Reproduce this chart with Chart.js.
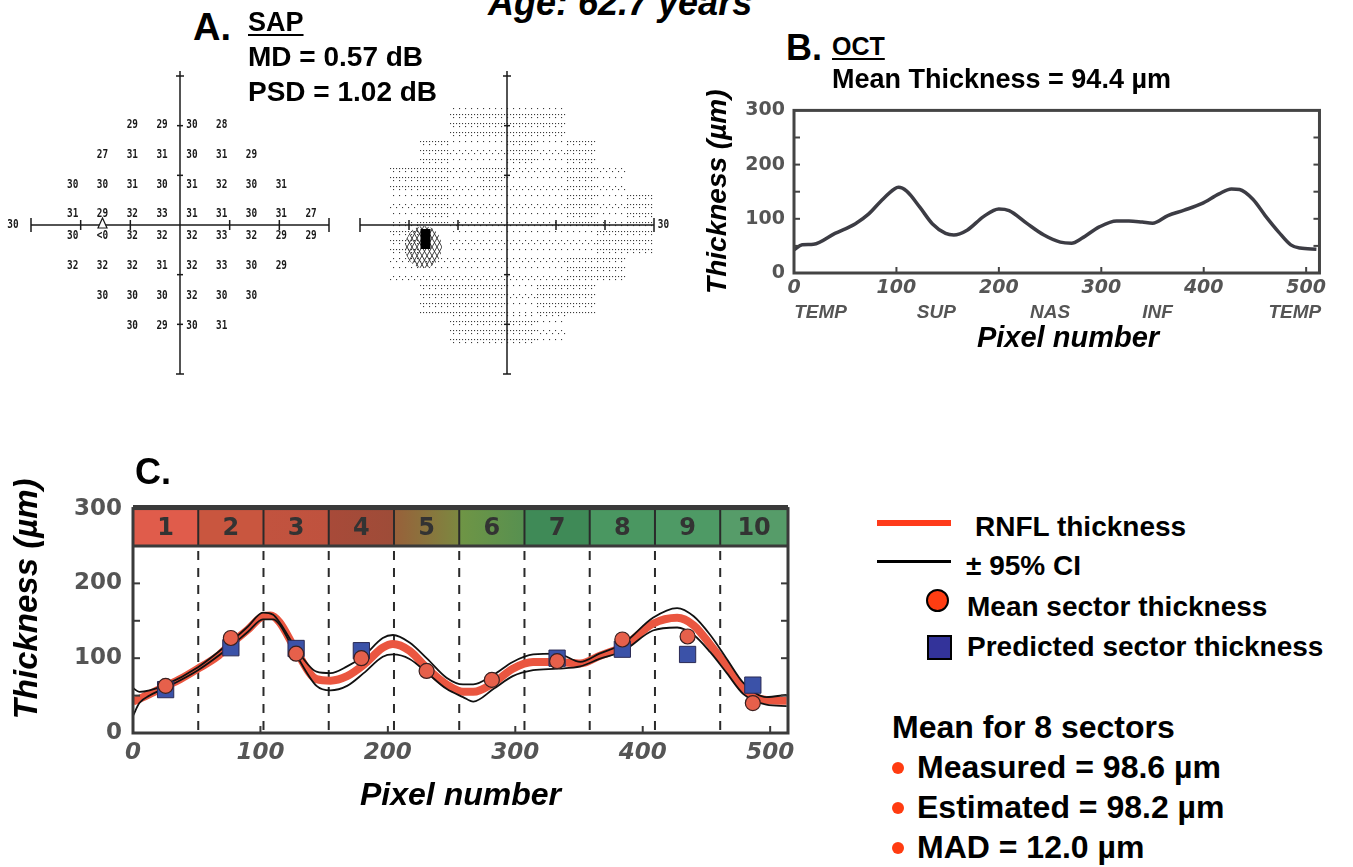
<!DOCTYPE html>
<html>
<head>
<meta charset="utf-8">
<script src="https://cdn.jsdelivr.net/npm/chart.js@4.4.1/dist/chart.umd.min.js"></script>
<style>
  html, body { margin:0; padding:0; background:#fff; }
  body { width:1353px; height:867px; position:relative; overflow:hidden; font-family:'Liberation Sans', Arial, sans-serif; }
  canvas { position:absolute; }
  .t { position:absolute; white-space:nowrap; font-weight:bold; color:#000; line-height:1; }
  .i { font-style:italic; }
  .u { text-decoration:underline; text-decoration-thickness:2px; text-underline-offset:3px; }
  .sw { position:absolute; box-sizing:border-box; }
</style>
</head>
<body>
<canvas id="sapNum" width="345" height="330" style="left:0px;top:60px"></canvas>
<canvas id="sapGrey" width="335" height="330" style="left:345px;top:60px"></canvas>
<canvas id="oct" width="663" height="266" style="left:690px;top:90px"></canvas>
<canvas id="rnfl" width="820" height="375" style="left:0px;top:440px"></canvas>

<div class="t i" style="left:488px;top:-15.5px;font-size:36px">Age: 62.7 years</div>
<div class="t" style="left:193px;top:7.8px;font-size:38px">A.</div>
<div class="t u" style="left:248px;top:9.1px;font-size:27px">SAP</div>
<div class="t" style="left:248px;top:43.3px;font-size:28px">MD = 0.57 dB</div>
<div class="t" style="left:248px;top:77.8px;font-size:28px">PSD = 1.02 dB</div>
<div class="t" style="left:786px;top:29.5px;font-size:36px">B.</div>
<div class="t u" style="left:832px;top:33.8px;font-size:25px">OCT</div>
<div class="t" style="left:832px;top:66.1px;font-size:27px">Mean Thickness = 94.4 µm</div>
<div class="t" style="left:135px;top:453.5px;font-size:36px">C.</div>

<div class="sw" style="left:877px;top:520px;width:74px;height:6px;background:#ff3b1a"></div>
<div class="sw" style="left:877px;top:559.5px;width:74px;height:3px;background:#000"></div>
<div class="sw" style="left:925.5px;top:588.5px;width:23px;height:23px;border-radius:50%;background:#ff3d12;border:2px solid #000"></div>
<div class="sw" style="left:927px;top:635px;width:25px;height:25px;background:#33339a;border:2px solid #000"></div>
<div class="t" style="left:975px;top:513.3px;font-size:28px">RNFL thickness</div>
<div class="t" style="left:966px;top:552.3px;font-size:28px">± 95% CI</div>
<div class="t" style="left:967px;top:593.3px;font-size:28px">Mean sector thickness</div>
<div class="t" style="left:967px;top:633.3px;font-size:28px">Predicted sector thickness</div>
<div class="t" style="left:892px;top:710.9px;font-size:32px">Mean for 8 sectors</div>
<div class="sw" style="left:892px;top:762px;width:12px;height:12px;border-radius:50%;background:#ff3b10"></div>
<div class="sw" style="left:892px;top:802px;width:12px;height:12px;border-radius:50%;background:#ff3b10"></div>
<div class="sw" style="left:892px;top:842px;width:12px;height:12px;border-radius:50%;background:#ff3b10"></div>
<div class="t" style="left:917px;top:750.9px;font-size:32px">Measured = 98.6 µm</div>
<div class="t" style="left:917px;top:790.9px;font-size:32px">Estimated = 98.2 µm</div>
<div class="t" style="left:917px;top:830.9px;font-size:32px">MAD = 12.0 µm</div>

<script>
// ---------------- DATA ----------------
// Panel A: SAP 24-2 threshold values (dB) at test locations (degrees); -1 means "<0"
const sapX = [-9,-3,3,9,
  -15,-9,-3,3,9,15,
  -21,-15,-9,-3,3,9,15,21,
  -21,-15,-9,-3,3,9,15,21,27,
  -21,-15,-9,-3,3,9,15,21,27,
  -21,-15,-9,-3,3,9,15,21,
  -15,-9,-3,3,9,15,
  -9,-3,3,9];
const sapY = [21,21,21,21,
  15,15,15,15,15,15,
  9,9,9,9,9,9,9,9,
  3,3,3,3,3,3,3,3,3,
  -3,-3,-3,-3,-3,-3,-3,-3,-3,
  -9,-9,-9,-9,-9,-9,-9,-9,
  -15,-15,-15,-15,-15,-15,
  -21,-21,-21,-21];
const sapThreshold = [29,29,30,28,
  27,31,31,30,31,29,
  30,30,31,30,31,32,30,31,
  31,29,32,33,31,31,30,31,27,
  30,-1,32,32,32,33,32,29,29,
  32,32,32,31,32,33,30,29,
  30,30,30,32,30,30,
  30,29,30,31];
const fieldAxisTicks = [-20,-10,10,20];
const fieldAxisEnds = [-30,30];
const blindSpotX = -15;

// Panel B: OCT thickness profile
const octX = [0,8,19,40,60,73,85,98,102,110,123,135,148,156,169,185,200,210,227,244,260,271,281,298,315,327,340,350,365,381,398,415,427,435,448,460,473,485,494,510];
const octY = [43,52,53,73,91,109,133,155,158,151,121,91,73,70,79,104,118,115,92,70,57,55,64,85,96,96,94,92,106,116,128,146,155,154,136,106,76,52,46,44];
const octTickX = [0,100,200,300,400,500];
const octTickY = [0,100,200,300];
const octMinorY = [50,100,150,200,250];
const octRegions = ['TEMP','SUP','NAS','INF','TEMP'];
const octRegionPos = [26,139,250,355,489];
const octFrameMax = 513;

// Panel C: RNFL thickness with 95% CI, sector means and predictions
const rnflX = [0,13,25,37,51,66,76,90,102,108,115,128,144,155,168,181,196,204,217,231,246,259,267,283,298,314,333,351,366,385,408,427,440,453,466,479,497,513];
const rnflY = [42,52,62,72,86,102,118,138,156,157,148,110,72,70,76,91,114,119,110,86,65,55,55,67,86,95,95,93,103,116,146,154,144,118,89,59,44,43];
const ciX = [0,5,13,25,51,76,90,102,110,115,128,144,155,168,181,196,204,217,231,246,259,267,283,298,314,333,351,366,385,408,427,440,453,466,479,497,513];
const ciUpper = [60,55,57,64,88,121,142,161,158,148,113,82,80,89,103,127,131,121,99,74,65,65,78,95,105,106,95,106,120,154,167,156,131,99,67,48,51];
const ciLower = [23,40,50,60,84,115,135,152,152,145,105,63,57,63,80,102,105,99,80,59,48,42,59,76,84,86,89,99,110,137,141,131,108,80,52,38,36];
const sectorNames = ['1','2','3','4','5','6','7','8','9','10'];
const sectorBounds = [0,51.2,102.4,153.6,204.8,256,307.2,358.4,409.6,460.8,512];
const sectorCenter = [25.6,76.8,128,179.2,230.4,281.6,332.8,384,435.2,486.4];
const meanSector = [63,127,106,100,83,71,96,125,129,40];
const predictedSector = [58,114,113,110,null,null,100,112,105,64];
const rnflTickX = [0,100,200,300,400,500];
const rnflTickY = [0,100,200,300];
const rnflMinorY = [50,100,150,200];
const bandRange = [250,300];
const rnflFrameMax = 514;

// ---------------- STYLE ----------------
const bandLeft  = ['#e05c4b','#c9563f','#c2533f','#a84a39','#98603a','#6f9545','#3f8a57','#4a9761','#4e9a65','#569c69'];
const bandRight = ['#e05c4b','#c9563f','#bf523e','#9e4c38','#7c8840','#579050','#3f8a57','#4a9761','#4e9a65','#569c69'];

Chart.defaults.font.family = "'Liberation Sans', Arial, sans-serif";
Chart.defaults.animation = false;

function seg(ctx, x0, y0, x1, y1) { ctx.beginPath(); ctx.moveTo(x0, y0); ctx.lineTo(x1, y1); ctx.stroke(); }

function drawCross(chart, labelSide) {
  const {ctx, scales: {x, y}} = chart;
  const cx = x.getPixelForValue(0), cy = y.getPixelForValue(0);
  ctx.save();
  ctx.strokeStyle = '#1a1a1a'; ctx.lineWidth = 1.5;
  seg(ctx, x.getPixelForValue(-30), cy, x.getPixelForValue(30), cy);
  seg(ctx, cx, y.getPixelForValue(31), cx, y.getPixelForValue(-30));
  fieldAxisTicks.forEach(v => {
    const px = x.getPixelForValue(v), py = y.getPixelForValue(v);
    seg(ctx, px, cy - 5, px, cy + 5);
    seg(ctx, cx - 3, py, cx + 3, py);
  });
  fieldAxisEnds.forEach(v => {
    const px = x.getPixelForValue(v), py = y.getPixelForValue(v);
    seg(ctx, px, cy - 7, px, cy + 7);
    seg(ctx, cx - 4, py, cx + 4, py);
  });
  ctx.fillStyle = '#1a1a1a';
  ctx.font = 'bold 12.5px "DejaVu Sans Mono"';
  ctx.textAlign = 'center'; ctx.textBaseline = 'middle';
  const lx = labelSide < 0 ? x.getPixelForValue(-30) - 18 : x.getPixelForValue(30) + 9.5;
  ctx.save(); ctx.translate(lx, cy); ctx.scale(0.75, 1); ctx.fillText('30', 0, 0); ctx.restore();
  ctx.restore();
}

const numPlugin = {
  id: 'sapNumbers',
  afterDatasetsDraw(chart) {
    const {ctx, scales: {x, y}} = chart;
    drawCross(chart, -1);
    const meta = chart.getDatasetMeta(0);
    ctx.save();
    ctx.fillStyle = '#1a1a1a';
    ctx.font = 'bold 12.5px "DejaVu Sans Mono"';
    ctx.textAlign = 'center'; ctx.textBaseline = 'middle';
    meta.data.forEach((pt, i) => {
      const v = sapThreshold[i];
      const label = v < 0 ? '<0' : String(v);
      const dy = sapY[i] > 0 ? 4 : -4;
      ctx.save(); ctx.translate(pt.x - 3, pt.y + dy); ctx.scale(0.75, 1); ctx.fillText(label, 0, 0); ctx.restore();
    });
    const tx = x.getPixelForValue(blindSpotX) - 3, cy = y.getPixelForValue(0);
    ctx.strokeStyle = '#1a1a1a'; ctx.lineWidth = 1.2; ctx.fillStyle = '#fff';
    ctx.beginPath(); ctx.moveTo(tx, cy - 7); ctx.lineTo(tx + 4.5, cy + 3); ctx.lineTo(tx - 4.5, cy + 3); ctx.closePath();
    ctx.fill(); ctx.stroke();
    ctx.restore();
  }
};

const greyPlugin = {
  id: 'sapGrey',
  beforeDatasetsDraw(chart) {
    const {ctx, scales: {x, y}} = chart;
    ctx.save();
    ctx.fillStyle = '#3a3a3a';
    sapX.forEach((lx, i) => {
      const v = sapThreshold[i];
      const x0 = Math.round(x.getPixelForValue(lx - 3)), x1 = Math.round(x.getPixelForValue(lx + 3));
      const y0 = Math.round(y.getPixelForValue(sapY[i] + 3)), y1 = Math.round(y.getPixelForValue(sapY[i] - 3));
      if (v < 0) {
        ctx.save();
        ctx.strokeStyle = '#2a2a2a'; ctx.lineWidth = 0.9;
        const hx0 = x0 - 14, hy0 = y0 + 1, hw = x1 - x0 + 8, hh = y1 - y0 + 12;
        ctx.beginPath(); ctx.ellipse(hx0 + hw / 2, hy0 + hh / 2, hw / 2, hh / 2, 0, 0, Math.PI * 2); ctx.clip();
        for (let k = -40; k < 70; k += 5) {
          seg(ctx, hx0 + k, hy0, hx0 + k + 24, hy0 + hh);
          seg(ctx, hx0 + k + 24, hy0, hx0 + k, hy0 + hh);
        }
        ctx.restore();
        ctx.fillStyle = '#000';
        const cx = (x0 + x1) / 2;
        ctx.fillRect(cx - 13, y0 + 4, 10, 20);
        ctx.fillStyle = '#3a3a3a';
        return;
      }
      const level = v >= 31 ? 0 : (v >= 26 ? 1 : 2);
      for (let gy = Math.ceil(y0 / 3) * 3; gy < y1; gy += 3) {
        const r = (gy / 3) % 3;
        for (let gx = Math.ceil(x0 / 3) * 3; gx < x1; gx += 3) {
          const c = (gx / 3) % 2;
          let on;
          if (level === 0) on = (r === 0 && c === 0) || (r === 1 && c === 1 && (gy / 9 | 0) % 2 === 0);
          else if (level === 1) on = (r === 0) || (r === 1 && c === 0);
          else on = r !== 2 || c === 0;
          if (on) ctx.fillRect(gx, gy, 1.1, 1.1);
        }
      }
    });
    ctx.restore();
  },
  afterDatasetsDraw(chart) { drawCross(chart, 1); }
};

function fieldChart(id, plugin, pad) {
  return new Chart(document.getElementById(id), {
    type: 'scatter',
    data: { datasets: [{ data: sapX.map((v, i) => ({x: v, y: sapY[i]})), pointRadius: 0, showLine: false }] },
    options: {
      responsive: false, animation: false, events: [],
      layout: { padding: pad },
      plugins: { legend: {display: false}, tooltip: {enabled: false} },
      scales: { x: {type: 'linear', min: -30, max: 30, display: false}, y: {type: 'linear', min: -30, max: 30, display: false} }
    },
    plugins: [plugin]
  });
}
fieldChart('sapNum', numPlugin, {left: 31, right: 16, top: 16, bottom: 16});
fieldChart('sapGrey', greyPlugin, {left: 15, right: 26, top: 16, bottom: 16});

// ---------------- Panel B ----------------
const octPlugin = {
  id: 'octFrame',
  afterDatasetsDraw(chart) {
    const {ctx, scales: {x, y}} = chart;
    const l = x.getPixelForValue(0), r = x.getPixelForValue(octFrameMax);
    const t = y.getPixelForValue(300), b = y.getPixelForValue(0);
    ctx.save();
    ctx.strokeStyle = '#444'; ctx.lineWidth = 3;
    ctx.strokeRect(l, t, r - l, b - t);
    ctx.lineWidth = 2;
    octMinorY.forEach(v => { const py = y.getPixelForValue(v); seg(ctx, l, py, l + 6, py); seg(ctx, r, py, r - 6, py); });
    octTickX.forEach(v => { if (v === 0) return; const px = x.getPixelForValue(v); seg(ctx, px, b, px, b - 6); });
    ctx.fillStyle = '#555';
    ctx.font = 'italic bold 19px "Liberation Sans"';
    ctx.textAlign = 'center'; ctx.textBaseline = 'middle';
    octRegionPos.forEach((v, i) => ctx.fillText(octRegions[i], x.getPixelForValue(v), b + 40));
    ctx.restore();
  }
};

new Chart(document.getElementById('oct'), {
  type: 'scatter',
  data: { datasets: [{
    data: octX.map((v, i) => ({x: v, y: octY[i]})),
    showLine: true, borderColor: '#3c3c44', borderWidth: 3.5, pointRadius: 0,
    cubicInterpolationMode: 'monotone', fill: false
  }] },
  options: {
    responsive: false, animation: false, events: [],
    layout: { padding: {left: 0, right: 11, top: 17, bottom: 0} },
    plugins: { legend: {display: false}, tooltip: {enabled: false} },
    scales: {
      x: {
        type: 'linear', min: 0, max: 535,
        afterBuildTicks: s => { s.ticks = octTickX.map(v => ({value: v})); },
        afterFit: s => { s.height = 83; },
        grid: {display: false, drawTicks: false}, border: {display: false},
        ticks: {padding: 4, color: '#555', maxRotation: 0, autoSkip: false,
                font: {family: 'DejaVu Sans', size: 19, weight: 'bold', style: 'italic'}},
        title: {display: true, text: 'Pixel number', color: '#000', padding: 0,
                font: {family: 'Liberation Sans', size: 29, weight: 'bold', style: 'italic'}}
      },
      y: {
        type: 'linear', min: 0, max: 300,
        afterBuildTicks: s => { s.ticks = octTickY.map(v => ({value: v})); },
        afterFit: s => { s.width = 104; },
        grid: {display: false, drawTicks: false}, border: {display: false},
        ticks: {padding: 9, color: '#555', font: {family: 'DejaVu Sans', size: 19, weight: 'bold'}},
        title: {display: true, text: 'Thickness (µm)', color: '#000', padding: {top: 11, bottom: 0},
                font: {family: 'Liberation Sans', size: 28, weight: 'bold', style: 'italic'}}
      }
    }
  },
  plugins: [octPlugin]
});

// ---------------- Panel C ----------------
const sectorPlugin = {
  id: 'sectorBand',
  beforeDatasetsDraw(chart) {
    const {ctx, scales: {x, y}} = chart;
    const r = x.getPixelForValue(rnflFrameMax);
    const bt = y.getPixelForValue(bandRange[1]), bb = y.getPixelForValue(bandRange[0]), b0 = y.getPixelForValue(0);
    ctx.save();
    for (let i = 0; i < sectorNames.length; i++) {
      const x0 = x.getPixelForValue(sectorBounds[i]);
      const x1 = i === sectorNames.length - 1 ? r : x.getPixelForValue(sectorBounds[i + 1]);
      const g = ctx.createLinearGradient(x0, 0, x1, 0);
      g.addColorStop(0, bandLeft[i]); g.addColorStop(1, bandRight[i]);
      ctx.fillStyle = g;
      ctx.fillRect(x0, bt, x1 - x0, bb - bt);
      ctx.fillStyle = '#333';
      ctx.font = 'bold 24px "DejaVu Sans"';
      ctx.textAlign = 'center'; ctx.textBaseline = 'middle';
      ctx.fillText(sectorNames[i], (x0 + x1) / 2, (bt + bb) / 2 + 1);
    }
    ctx.strokeStyle = '#2a2a2a'; ctx.lineWidth = 2;
    sectorBounds.slice(1, -1).forEach(s => {
      const px = x.getPixelForValue(s);
      ctx.setLineDash([]); seg(ctx, px, bt, px, bb);
      ctx.setLineDash([9, 8]); seg(ctx, px, bb + 5, px, b0);
    });
    ctx.restore();
  },
  afterDatasetsDraw(chart) {
    const {ctx, scales: {x, y}} = chart;
    const l = x.getPixelForValue(0), r = x.getPixelForValue(rnflFrameMax);
    const bt = y.getPixelForValue(bandRange[1]), bb = y.getPixelForValue(bandRange[0]), b0 = y.getPixelForValue(0);
    ctx.save();
    ctx.strokeStyle = '#3a3a3a'; ctx.lineWidth = 3;
    ctx.strokeRect(l, bt, r - l, b0 - bt);
    ctx.lineWidth = 5; seg(ctx, l, bt - 1, r, bt - 1);
    ctx.lineWidth = 3; seg(ctx, l, bb, r, bb);
    ctx.lineWidth = 2;
    rnflMinorY.forEach(v => { const py = y.getPixelForValue(v); seg(ctx, l, py, l + 7, py); seg(ctx, r, py, r - 7, py); });
    rnflTickX.forEach(v => { if (v === 0) return; const px = x.getPixelForValue(v); seg(ctx, px, b0, px, b0 - 7); });
    ctx.restore();
  }
};

new Chart(document.getElementById('rnfl'), {
  type: 'scatter',
  data: { datasets: [
    { label: 'Mean sector thickness', order: 1,
      data: sectorCenter.map((v, i) => ({x: v, y: meanSector[i]})),
      showLine: false, pointStyle: 'circle', pointRadius: 7.5,
      backgroundColor: '#e6604b', borderColor: '#3a2020', borderWidth: 1.2 },
    { label: 'Predicted sector thickness', order: 2,
      data: sectorCenter.map((v, i) => ({x: v, y: predictedSector[i]})),
      showLine: false, pointStyle: 'rect', pointRadius: 11.5,
      backgroundColor: '#3b52a8', borderColor: '#2a2a55', borderWidth: 1 },
    { label: '+95% CI', order: 3,
      data: ciX.map((v, i) => ({x: v, y: ciUpper[i]})),
      showLine: true, borderColor: '#111', borderWidth: 1.8, pointRadius: 0, cubicInterpolationMode: 'monotone' },
    { label: '-95% CI', order: 3,
      data: ciX.map((v, i) => ({x: v, y: ciLower[i]})),
      showLine: true, borderColor: '#111', borderWidth: 1.8, pointRadius: 0, cubicInterpolationMode: 'monotone' },
    { label: 'RNFL thickness', order: 4,
      data: rnflX.map((v, i) => ({x: v, y: rnflY[i]})),
      showLine: true, borderColor: '#ea5640', borderWidth: 8, pointRadius: 0, cubicInterpolationMode: 'monotone' }
  ] },
  options: {
    responsive: false, animation: false, events: [],
    layout: { padding: {left: 0, right: 32, top: 11, bottom: 0} },
    plugins: { legend: {display: false}, tooltip: {enabled: false} },
    scales: {
      x: {
        type: 'linear', min: 0, max: rnflFrameMax,
        afterBuildTicks: s => { s.ticks = rnflTickX.map(v => ({value: v})); },
        afterFit: s => { s.height = 82; },
        grid: {display: false, drawTicks: false}, border: {display: false},
        ticks: {padding: 6, color: '#555', maxRotation: 0, autoSkip: false,
                font: {family: 'DejaVu Sans', size: 23, weight: 'bold', style: 'italic'}},
        title: {display: true, text: 'Pixel number', color: '#000', padding: 0,
                font: {family: 'Liberation Sans', size: 32, weight: 'bold', style: 'italic'}}
      },
      y: {
        type: 'linear', min: 0, max: 358.5,
        afterBuildTicks: s => { s.ticks = rnflTickY.map(v => ({value: v})); },
        afterFit: s => { s.width = 133; },
        grid: {display: false, drawTicks: false}, border: {display: false},
        ticks: {padding: 11, color: '#555', font: {family: 'DejaVu Sans', size: 23, weight: 'bold'}},
        title: {display: true, text: 'Thickness (µm)', color: '#000', padding: {top: 8, bottom: 0},
                font: {family: 'Liberation Sans', size: 33, weight: 'bold', style: 'italic'}}
      }
    }
  },
  plugins: [sectorPlugin]
});
</script>
</body>
</html>
